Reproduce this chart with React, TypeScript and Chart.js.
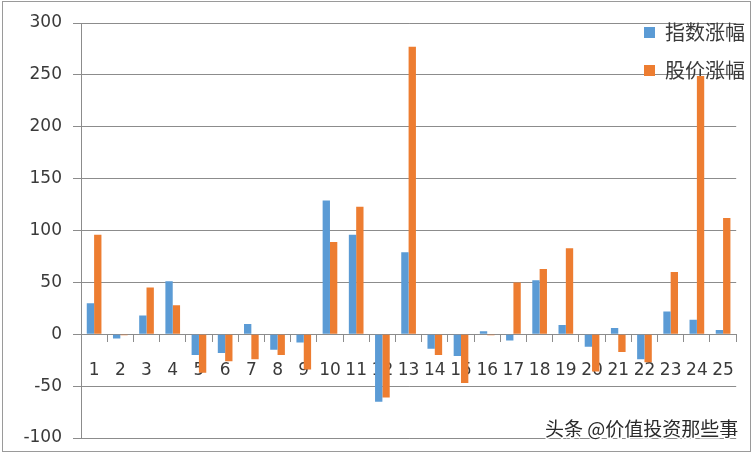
import { useEffect, useRef } from 'react'
import { Chart, registerables } from 'chart.js'

Chart.register(...registerables)

const categories = ['1', '2', '3', '4', '5', '6', '7', '8', '9', '10', '11', '12', '13', '14', '15', '16', '17', '18', '19', '20', '21', '22', '23', '24', '25']
const indexChange = [30, -4, 18, 51, -20, -18, 10, -15, -8, 129, 96, -65, 79, -14, -21, 3, -6, 52, 9, -12, 6, -24, 22, 14, 4]
const priceChange = [96, -1, 45, 28, -37, -26, -24, -20, -34, 89, 123, -61, 277, -20, -47, -1, 50, 63, 83, -36, -17, -27, 60, 249, 112]
const seriesNames = ['指数涨幅', '股价涨幅']
const yTicks = [-100, -50, 0, 50, 100, 150, 200, 250, 300]

const gridColor = '#8c8c8c'
const textColor = '#3a3a3a'

// frame, watermark, and legend moved into the plot's top-right corner
const extras = {
  id: 'extras',
  afterLayout(chart: any) {
    const lg = chart.legend
    if (!lg) return
    lg.left = 626
    lg.right = 753
    lg.top = 4.5
    lg.bottom = lg.top + lg.height
  },
  afterDraw(chart: any) {
    const ctx = chart.ctx
    ctx.save()
    ctx.strokeStyle = '#9a9a9a'
    ctx.lineWidth = 1
    ctx.strokeRect(2.5, 1.5, 748, 450)
    ctx.font = '19px "Noto Sans CJK SC"'
    ctx.textBaseline = 'middle'
    ctx.textAlign = 'left'
    ctx.lineWidth = 3
    ctx.strokeStyle = '#ffffff'
    ctx.strokeText('头条 @价值投资那些事', 545, 429)
    ctx.fillStyle = '#2a2a2a'
    ctx.fillText('头条 @价值投资那些事', 545, 429)
    ctx.restore()
  },
}

function BarChart() {
  const ref = useRef<HTMLCanvasElement>(null)

  useEffect(() => {
    if (!ref.current) return
    const chart = new Chart(ref.current, {
      type: 'bar',
      data: {
        labels: categories,
        datasets: [
          { label: seriesNames[0], data: indexChange, backgroundColor: '#5B9BD5' },
          { label: seriesNames[1], data: priceChange, backgroundColor: '#ED7D31' },
        ],
      },
      options: {
        responsive: false,
        animation: false,
        devicePixelRatio: 1,
        layout: { padding: { left: 0, top: 23, right: 5, bottom: 15 } },
        datasets: { bar: { categoryPercentage: 0.56, barPercentage: 1 } },
        scales: {
          x: {
            position: { y: 0 } as any,
            z: 1,
            grid: { drawOnChartArea: false, drawTicks: true, tickLength: 7, color: gridColor, offset: true },
            border: { color: gridColor },
            ticks: { color: textColor, padding: 19, font: { family: 'DejaVu Sans', size: 17 }, maxRotation: 0, autoSkip: false },
          },
          y: {
            min: yTicks[0],
            max: yTicks[yTicks.length - 1],
            afterFit: (scale: any) => {
              scale.width = 81
              scale.paddingTop = 0
              scale.paddingBottom = 0
            },
            afterBuildTicks: (scale: any) => { scale.ticks = yTicks.map(v => ({ value: v })) },
            grid: { color: gridColor, tickLength: 8 },
            border: { color: gridColor },
            ticks: { color: textColor, padding: 11, font: { family: 'DejaVu Sans', size: 17 } },
          },
        },
        plugins: {
          legend: {
            position: 'chartArea',
            align: 'start',
            labels: {
              boxWidth: 11,
              boxHeight: 11,
              padding: 18,
              color: textColor,
              font: { family: 'Noto Sans CJK SC', size: 20 },
            },
          },
          tooltip: { enabled: false },
        },
      },
      plugins: [extras],
    })
    return () => chart.destroy()
  }, [])

  return <canvas ref={ref} width={753} height={453} />
}

export default function App() {
  return (
    <div style={{ position: 'absolute', left: 0, top: 0, width: 753, height: 453, background: '#fff' }}>
      <BarChart />
    </div>
  )
}
